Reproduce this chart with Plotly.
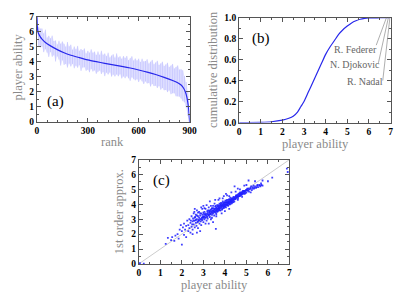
import plotly.graph_objects as go

# ---------------- data ----------------
# (a) player ability vs rank
mean_rank = [0, 2, 5, 10, 20, 30, 50, 80, 120, 160, 200, 250, 300, 350, 400, 450, 500,
             550, 600, 650, 700, 750, 800, 830, 850, 865, 875, 885, 892, 897, 900]
mean_ability = [7.0, 6.4, 6.05, 5.85, 5.65, 5.5, 5.28, 5.05, 4.8, 4.59, 4.43, 4.27, 4.12,
                4.0, 3.89, 3.79, 3.69, 3.58, 3.45, 3.31, 3.15, 2.96, 2.75, 2.6, 2.45,
                2.24, 2.0, 1.6, 1.1, 0.55, 0.0]

band_rank = list(range(0, 901, 10))
band_mean = [6.9, 5.85, 5.65, 5.5, 5.38, 5.28, 5.2, 5.12, 5.05, 4.98, 4.92, 4.86, 4.8, 4.74,
             4.69, 4.64, 4.59, 4.55, 4.51, 4.47, 4.43, 4.4, 4.36, 4.33, 4.3, 4.27, 4.24,
             4.21, 4.18, 4.15, 4.12, 4.1, 4.07, 4.05, 4.02, 4.0, 3.98, 3.96, 3.93, 3.91,
             3.89, 3.87, 3.85, 3.83, 3.81, 3.79, 3.77, 3.75, 3.73, 3.71, 3.69, 3.67, 3.65,
             3.63, 3.6, 3.58, 3.56, 3.53, 3.51, 3.48, 3.45, 3.43, 3.4, 3.37, 3.34, 3.31,
             3.28, 3.25, 3.22, 3.18, 3.15, 3.11, 3.08, 3.04, 3.0, 2.96, 2.92, 2.88, 2.84,
             2.79, 2.75, 2.7, 2.65, 2.6, 2.53, 2.45, 2.33, 2.15, 1.85, 1.3, 0.0]
band_up = [0.0, 0.45, 0.55, 0.7, 0.5, 0.85, 0.4, 0.6, 0.5, 0.75, 0.45, 0.55, 0.35, 0.65,
           0.5, 0.7, 0.6, 0.45, 0.8, 0.55, 0.7, 0.4, 0.65, 0.5, 0.75, 0.45, 0.6, 0.55,
           0.7, 0.4, 0.6, 0.5, 0.75, 0.55, 0.65, 0.45, 0.7, 0.5, 0.8, 0.55, 0.65, 0.5,
           0.75, 0.45, 0.6, 0.7, 0.5, 0.8, 0.55, 0.65, 0.5, 0.7, 0.6, 0.75, 0.5, 0.65,
           0.8, 0.55, 0.7, 0.6, 0.75, 0.55, 0.8, 0.65, 0.7, 0.85, 0.6, 0.75, 0.9, 0.65,
           0.8, 0.95, 0.7, 0.85, 1.0, 0.75, 0.9, 1.05, 0.8, 0.95, 1.1, 0.85, 1.0, 1.15,
           0.95, 1.05, 1.1, 0.9, 0.8, 0.7, 0.5]
band_down = [0.5, 0.8, 0.7, 0.5, 0.75, 0.45, 0.6, 0.8, 0.4, 0.65, 0.5, 0.85, 0.45, 0.6,
             0.95, 0.55, 0.8, 0.7, 0.9, 0.6, 0.75, 0.55, 0.8, 0.6, 0.7, 0.5, 0.85, 0.6,
             0.55, 0.75, 0.65, 0.8, 0.55, 0.7, 0.6, 0.8, 0.65, 0.55, 0.75, 0.6, 0.85,
             0.6, 0.7, 0.55, 0.8, 0.65, 0.75, 0.6, 0.7, 0.55, 0.8, 0.65, 0.75, 0.6, 0.7,
             0.85, 0.6, 0.7, 0.75, 0.65, 0.8, 0.6, 0.7, 0.85, 0.65, 0.75, 0.7, 0.9, 0.7,
             0.8, 0.75, 0.85, 0.7, 0.9, 0.75, 0.85, 0.8, 0.9, 0.75, 0.95, 0.85, 0.8, 0.95,
             0.9, 0.85, 0.9, 0.95, 0.85, 0.9, 0.9, 0.0]

# (b) cumulative distribution of player ability
cdf_ability = [0, 1.0, 1.5, 2.0, 2.3, 2.5, 2.7, 2.85, 3.0, 3.2, 3.4, 3.6, 3.8, 4.0, 4.2,
               4.4, 4.6, 4.8, 5.0, 5.2, 5.4, 5.6, 5.8, 6.0, 6.5, 7.0]
cdf_value = [0.0, 0.002, 0.007, 0.022, 0.04, 0.06, 0.1, 0.15, 0.2, 0.29, 0.38, 0.47, 0.56,
             0.65, 0.72, 0.78, 0.84, 0.885, 0.92, 0.95, 0.97, 0.985, 0.993, 0.997, 0.999, 1.0]
top_players = ["R. Federer", "N. Djokovic", "R. Nadal"]
top_ability = [6.81, 6.90, 6.97]

# (c) first order approximation vs player ability
scatter_pts = [
    (0.05, 0.05), (0.23, 0.02),
    (1.25, 1.35), (1.35, 1.75), (1.5, 1.6), (1.55, 1.8), (1.65, 1.55), (1.7, 1.9), (1.8, 2.0),
    (1.85, 1.7), (1.9, 2.3), (1.95, 2.6), (2.0, 1.3), (2.0, 2.2), (2.05, 2.45), (2.1, 1.95),
    (2.1, 2.7), (2.15, 2.3), (2.2, 2.55), (2.2, 1.8), (2.25, 2.9), (2.3, 2.2), (2.3, 2.6),
    (2.35, 2.4), (2.35, 3.0), (2.4, 2.1), (2.4, 2.75),
    (2.45, 2.5), (2.45, 3.2), (2.5, 2.85), (2.5, 2.3), (2.52, 3.05), (2.55, 2.65), (2.55, 3.4),
    (2.6, 2.9), (2.6, 2.45), (2.62, 3.15), (2.65, 2.75), (2.65, 3.3), (2.68, 2.55), (2.7, 3.0),
    (2.7, 3.6), (2.72, 2.8), (2.75, 3.2), (2.75, 2.4), (2.78, 2.95), (2.8, 3.1), (2.8, 3.5),
    (2.82, 2.7), (2.85, 3.0), (2.85, 3.25), (2.88, 2.85), (2.9, 3.4), (2.9, 2.6), (2.92, 3.1),
    (2.95, 2.95), (2.95, 3.3), (2.98, 3.15), (3.0, 2.8), (3.0, 3.45), (2.6, 3.7), (2.85, 2.2),
    (2.7, 2.1), (2.5, 2.0), (2.95, 3.7),
    (3.02, 3.2), (3.05, 3.0), (3.05, 3.5), (3.08, 3.3), (3.1, 3.1), (3.1, 3.7), (3.12, 3.4),
    (3.15, 2.9), (3.15, 3.25), (3.18, 3.55), (3.2, 3.35), (3.2, 3.05), (3.22, 3.6), (3.25, 3.3),
    (3.25, 3.8), (3.28, 3.45), (3.3, 3.15), (3.3, 3.5), (3.32, 3.35), (3.35, 3.65), (3.35, 3.0),
    (3.38, 3.45), (3.4, 3.3), (3.4, 3.75), (3.42, 3.55), (3.45, 3.4), (3.45, 3.9), (3.48, 3.6),
    (3.5, 3.25), (3.5, 3.5), (3.52, 3.7), (3.55, 3.45), (3.55, 3.85), (3.58, 3.6), (3.6, 3.35),
    (3.6, 3.75), (3.3, 4.2), (3.45, 2.8), (3.15, 3.95), (3.52, 4.05), (3.25, 2.7), (3.58, 2.35),
    (3.62, 3.65), (3.65, 3.85), (3.65, 3.5), (3.68, 3.7), (3.7, 3.95), (3.7, 3.6), (3.72, 3.8),
    (3.75, 3.7), (3.75, 4.05), (3.78, 3.85), (3.8, 3.6), (3.8, 3.95), (3.82, 4.1), (3.85, 3.8),
    (3.85, 3.95), (3.88, 3.7), (3.9, 4.0), (3.9, 4.2), (3.92, 3.85), (3.95, 4.05), (3.95, 3.75),
    (3.98, 3.95), (4.0, 4.1), (4.0, 3.85), (4.02, 4.25), (4.05, 4.0), (4.05, 3.8), (4.08, 4.15),
    (4.1, 3.95), (4.1, 4.3), (4.12, 4.05), (4.15, 4.2), (4.15, 3.9), (4.18, 4.1), (4.2, 4.35),
    (4.2, 4.0), (4.22, 4.2), (4.25, 4.1), (4.25, 4.45), (4.28, 4.25), (4.3, 4.05), (4.3, 4.35),
    (4.32, 4.2), (4.35, 4.4), (4.38, 4.3), (4.4, 4.15), (4.4, 4.5), (3.75, 4.4), (3.95, 4.55),
    (4.05, 4.7), (4.3, 4.8), (4.0, 3.55), (3.85, 3.4), (4.2, 3.7), (4.45, 5.2),
    (4.45, 4.35), (4.48, 4.5), (4.5, 4.4), (4.52, 4.6), (4.55, 4.45), (4.58, 4.55), (4.6, 4.65),
    (4.62, 4.5), (4.65, 4.6), (4.68, 4.75), (4.7, 4.55), (4.72, 4.7), (4.75, 4.65), (4.78, 4.8),
    (4.8, 4.7), (4.82, 4.85), (4.85, 4.75), (4.88, 4.9), (4.9, 4.8), (4.92, 4.7), (4.95, 4.85),
    (4.98, 4.95), (5.0, 4.8), (5.02, 5.0), (5.05, 4.9), (5.1, 5.05), (5.12, 4.85), (5.15, 5.0),
    (5.2, 5.1), (5.25, 4.95), (5.3, 5.15), (5.35, 5.05), (5.4, 5.2), (5.45, 5.1), (5.5, 5.25),
    (5.55, 5.15), (5.6, 5.3), (5.65, 5.2), (5.7, 5.3), (5.75, 5.25), (5.1, 5.6), (4.9, 5.25),
    (5.4, 5.55), (4.6, 5.05),
    (5.75, 5.6), (6.0, 5.55), (6.2, 5.8), (6.88, 6.4), (6.92, 6.17),
    (3.3, 3.6), (3.33, 3.4), (3.36, 3.55), (3.39, 3.7), (3.41, 3.45), (3.44, 3.6), (3.46, 3.75),
    (3.49, 3.5), (3.51, 3.65), (3.53, 3.55), (3.56, 3.7), (3.57, 3.9), (3.59, 3.5), (3.61, 3.8),
    (3.63, 3.6), (3.64, 3.95), (3.66, 3.7), (3.67, 3.55), (3.69, 3.85), (3.71, 3.75), (3.73, 3.65),
    (3.74, 3.9), (3.76, 3.8), (3.77, 3.6), (3.79, 4.0), (3.81, 3.75), (3.83, 3.9), (3.84, 4.05),
    (3.86, 3.85), (3.87, 3.65), (3.89, 3.95), (3.91, 4.1), (3.93, 3.9), (3.94, 3.8), (3.96, 4.0),
    (3.97, 4.15), (3.99, 3.85), (4.01, 4.0), (4.03, 4.15), (4.04, 3.9), (4.06, 4.1), (4.07, 4.25),
    (4.09, 4.0), (4.11, 4.15), (4.13, 3.95), (4.14, 4.1), (4.16, 4.3), (4.17, 4.05), (4.19, 4.2),
    (4.21, 4.1), (4.23, 4.3), (4.24, 4.0), (4.26, 4.2), (4.27, 4.35), (4.29, 4.15), (4.31, 4.25),
    (4.33, 4.4), (4.34, 4.1), (4.36, 4.3), (4.37, 4.2), (4.39, 4.4), (4.41, 4.3), (4.43, 4.45),
    (4.44, 4.2), (4.46, 4.4), (4.49, 4.35), (4.51, 4.55), (4.53, 4.45), (4.56, 4.6), (4.59, 4.5),
    (4.61, 4.4), (4.64, 4.7), (4.66, 4.55), (4.69, 4.65), (4.71, 4.8), (4.74, 4.6), (4.76, 4.75),
    (4.79, 4.65), (4.81, 4.8), (4.84, 4.9), (4.86, 4.7), (4.89, 4.85), (4.93, 4.9), (4.96, 4.75),
    (5.0, 4.95), (5.05, 5.05), (5.08, 4.95), (5.18, 5.05), (5.22, 5.2), (5.28, 5.05), (5.33, 5.25),
    (5.38, 5.1), (5.48, 5.15), (5.52, 5.3), (5.62, 5.25), (5.68, 5.4),
    (2.55, 2.9), (2.6, 3.1), (2.65, 2.95), (2.7, 3.25), (2.75, 2.85), (2.8, 2.9), (2.85, 3.4),
    (2.9, 3.0), (2.95, 3.1), (3.0, 3.1), (3.03, 3.35), (3.07, 3.15), (3.12, 3.3), (3.17, 3.15),
    (3.21, 3.45), (3.23, 3.25), (3.27, 3.55), (3.29, 3.3), (2.58, 3.5), (2.42, 2.9), (2.48, 2.65),
    (3.0, 3.9), (2.9, 3.8), (3.1, 2.7), (3.4, 3.1), (3.6, 3.2), (3.7, 4.3), (3.9, 4.4),
    (4.1, 4.6), (4.2, 4.55), (4.6, 4.3), (4.8, 4.5), (4.5, 4.85), (4.7, 5.0), (5.0, 5.3),
    (5.2, 4.8), (3.55, 4.3), (3.35, 3.9), (3.05, 3.75), (2.75, 3.45),
]
scatter_x = [p[0] for p in scatter_pts]
scatter_y = [p[1] for p in scatter_pts]

# ---------------- styling ----------------
BLUE = "rgb(40,40,235)"
FRAME = "#555555"
TITLE_GRAY = "#8a8a8a"
SERIF = "Liberation Serif"

fig = go.Figure()

# (a)
band_hi = [m + u for m, u in zip(band_mean, band_up)]
band_lo = [m - d for m, d in zip(band_mean, band_down)]
fig.add_trace(go.Scatter(x=band_rank, y=band_hi, mode="lines", line=dict(width=0),
                         hoverinfo="skip", showlegend=False, xaxis="x", yaxis="y"))
fig.add_trace(go.Scatter(x=band_rank, y=band_lo, mode="lines", line=dict(width=0),
                         fill="tonexty", fillcolor="rgba(170,170,255,0.25)",
                         hoverinfo="skip", showlegend=False, xaxis="x", yaxis="y"))
fig.add_trace(go.Scatter(x=band_rank, y=band_mean, mode="markers",
                         marker=dict(size=1, opacity=0),
                         error_y=dict(type="data", symmetric=False, array=band_up,
                                      arrayminus=band_down, width=0, thickness=1,
                                      color="rgba(140,140,255,0.35)"),
                         hoverinfo="skip", showlegend=False, xaxis="x", yaxis="y"))
fig.add_trace(go.Scatter(x=mean_rank, y=mean_ability, mode="lines",
                         line=dict(color=BLUE, width=1.2, shape="spline", smoothing=0.6),
                         showlegend=False, xaxis="x", yaxis="y"))

# (b)
fig.add_trace(go.Scatter(x=cdf_ability, y=cdf_value, mode="lines",
                         line=dict(color=BLUE, width=1.2, shape="spline", smoothing=0.8),
                         showlegend=False, xaxis="x2", yaxis="y2"))

# (c)
fig.add_trace(go.Scatter(x=[0, 7], y=[0, 7], mode="lines",
                         line=dict(color="#cccccc", width=1),
                         showlegend=False, xaxis="x3", yaxis="y3"))
fig.add_trace(go.Scatter(x=scatter_x, y=scatter_y, mode="markers",
                         marker=dict(symbol="square", size=1.8, color="rgba(30,30,255,0.85)",
                                     line=dict(width=0)),
                         showlegend=False, xaxis="x3", yaxis="y3"))

tickfont = dict(family=SERIF, size=9.5, color="black", weight="bold")


def axis(domain, rng, dtick, minor_dtick, anchor):
    return dict(domain=domain, range=rng, anchor=anchor, showgrid=False, zeroline=False,
                showline=True, mirror="allticks", linecolor=FRAME, linewidth=1,
                ticks="inside", ticklen=4, tickwidth=1, tickcolor=FRAME,
                tickfont=tickfont, dtick=dtick, tick0=0, fixedrange=True,
                minor=dict(ticks="inside", ticklen=2, tickcolor=FRAME, dtick=minor_dtick,
                           showgrid=False))


layout = dict(
    width=415, height=298, margin=dict(l=0, r=0, t=0, b=0),
    paper_bgcolor="white", plot_bgcolor="white", showlegend=False,
    xaxis=axis([0.086, 0.462], [0, 900], 300, 60, "y"),
    yaxis=axis([0.594, 0.96], [0, 7], 1, 0.5, "x"),
    xaxis2=axis([0.584, 0.957], [0, 7], 1, 0.5, "y2"),
    yaxis2=axis([0.592, 0.956], [0, 1], 0.2, 0.1, "x2"),
    xaxis3=axis([0.337, 0.708], [0, 7], 1, 0.5, "y3"),
    yaxis3=axis([0.101, 0.463], [0, 7], 1, 0.5, "x3"),
)
layout["yaxis2"]["tickformat"] = ".1f"
fig.update_layout(**layout)

title_font = dict(family=SERIF, size=12.5, color=TITLE_GRAY)
panel_font = dict(family=SERIF, size=15, color="black")
ann = []


def title(text, px, py, angle=0):
    ann.append(dict(text=text, x=px / 415, y=1 - py / 298, xref="paper", yref="paper",
                    showarrow=False, font=title_font, textangle=angle,
                    xanchor="center", yanchor="middle"))


title("rank", 113, 141.5)
title("player ability", 16, 64, -90)
title("player ability", 320, 143.5)
title("cumulative distribution", 215, 67, -90)
title("player ability", 217, 289.5)
title("1st order approx.", 119, 214, -90)

# panel labels
ann.append(dict(text="(a)", x=0.053, y=0.197, xref="x domain", yref="y domain",
                showarrow=False, font=panel_font, xanchor="left", yanchor="middle"))
ann.append(dict(text="(b)", x=0.071, y=0.80, xref="x2 domain", yref="y2 domain",
                showarrow=False, font=panel_font, xanchor="left", yanchor="middle"))
ann.append(dict(text="(c)", x=0.082, y=0.80, xref="x3 domain", yref="y3 domain",
                showarrow=False, font=panel_font, xanchor="left", yanchor="middle"))

# player labels in (b)
label_pos = [(5.37, 0.692), (5.35, 0.551), (5.81, 0.394)]
line_end = [(6.34, 0.738), (6.44, 0.569), (6.64, 0.40)]
label_font = dict(family=SERIF, size=10, color="#666666")
shapes = []
for name, ab, (lx, ly), (ex, ey) in zip(top_players, top_ability, label_pos, line_end):
    ann.append(dict(text=name, x=lx, y=ly, xref="x2", yref="y2", showarrow=False,
                    font=label_font, xanchor="center", yanchor="middle"))
    shapes.append(dict(type="line", xref="x2", yref="y2", x0=ex, y0=ey, x1=ab, y1=1.0,
                       line=dict(color="#999999", width=0.8)))

fig.update_layout(annotations=ann, shapes=shapes)
fig.write_html("out.html", config={"displayModeBar": False})

# remove the default page margin so the figure sits at the window's top-left corner
with open("out.html", encoding="utf-8") as f:
    html = f.read()
html = html.replace("<head>", "<head><style>html,body{margin:0;padding:0;overflow:hidden}</style>", 1)
with open("out.html", "w", encoding="utf-8") as f:
    f.write(html)
